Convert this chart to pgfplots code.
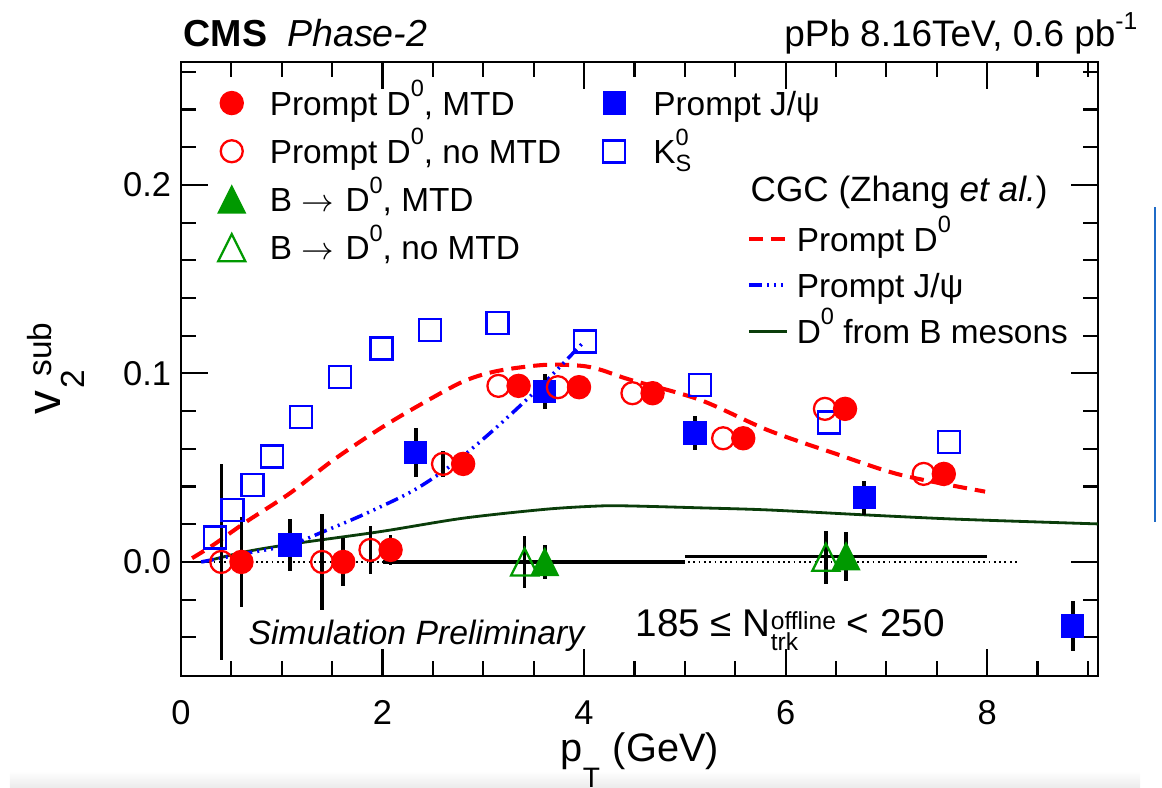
\documentclass[border=0pt]{standalone}
\usepackage{pgfplots}
\pgfplotsset{compat=1.18}
\usepackage{pgfplotstable}
\usepackage{fontspec}
\setmainfont{Liberation Sans}

\definecolor{pdred}{rgb}{1,0,0}
\definecolor{pdblue}{rgb}{0,0,1}
\definecolor{bgreen}{rgb}{0,0.6,0}
\definecolor{cgcgreen}{rgb}{0.04,0.24,0.04}
\definecolor{edgeblue}{rgb}{0.12,0.42,0.78}

\newcommand{\fsz}[1]{\fontsize{#1}{#1}\selectfont}
\newcommand{\sups}[1]{\raisebox{1.85mm}{\fsz{6.7}#1}}
\newcommand{\subs}[1]{\raisebox{-0.8mm}{\fsz{6.7}#1}}
\newcommand{\arr}{\hspace{0.9mm}\ensuremath{\rightarrow}\hspace{1.2mm}}

% ROOT-style up triangles: as wide as tall, centred on the point
\pgfdeclareplotmark{rtri}{%
  \pgfpathmoveto{\pgfqpoint{-\pgfplotmarksize}{-\pgfplotmarksize}}%
  \pgfpathlineto{\pgfqpoint{\pgfplotmarksize}{-\pgfplotmarksize}}%
  \pgfpathlineto{\pgfqpoint{0pt}{\pgfplotmarksize}}%
  \pgfpathclose\pgfusepathqstroke}
\pgfdeclareplotmark{rtri*}{%
  \pgfpathmoveto{\pgfqpoint{-\pgfplotmarksize}{-\pgfplotmarksize}}%
  \pgfpathlineto{\pgfqpoint{\pgfplotmarksize}{-\pgfplotmarksize}}%
  \pgfpathlineto{\pgfqpoint{0pt}{\pgfplotmarksize}}%
  \pgfpathclose\pgfusepathqfillstroke}

% ---------------- data ----------------
% prompt D0 with MTD
\pgfplotstableread{
x     y       ey
0.60  0.0000  0.024
1.61  0.0000  0.0125
2.08  0.0064  0.008
2.80  0.0520  0.003
3.35  0.0934  0.003
3.95  0.0927  0.003
4.68  0.0895  0.003
5.58  0.0656  0.003
6.59  0.0812  0.003
7.57  0.0467  0.003
}\dzmtd
% prompt D0 without MTD (bars smaller than the marker are not drawn)
\pgfplotstableread{
x     y       ey
0.40  0.0000  0.052
1.40  0.0000  0.0255
1.88  0.0064  0.0127
2.60  0.0520  0.007
3.15  0.0934  0
3.74  0.0927  0
4.48  0.0895  0
5.38  0.0656  0
6.39  0.0812  0
7.37  0.0467  0
}\dznomtd
% B -> D0 with MTD
\pgfplotstableread{
x     y       ey
3.61  0.0000  0.009
6.60  0.0030  0.013
}\bdmtd
% B -> D0 without MTD
\pgfplotstableread{
x     y       ey
3.41  0.0000  0.014
6.40  0.0025  0.014
}\bdnomtd
% prompt J/psi
\pgfplotstableread{
x     y        ey
1.08  0.0090   0.014
2.33  0.0580   0.013
3.61  0.0904   0.0095
5.10  0.0683   0.009
6.78  0.0341   0.009
8.85  -0.0340  0.0133
}\jpsi
% K0S
\pgfplotstableread{
x     y
0.34  0.0129
0.51  0.0276
0.71  0.0408
0.90  0.0559
1.19  0.0768
1.58  0.0980
1.99  0.1132
2.47  0.1231
3.14  0.1266
4.01  0.1169
5.15  0.0939
6.43  0.0739
7.62  0.0635
}\kzs
% CGC, prompt D0
\pgfplotstableread{
x     y
0.11  0.0020
0.32  0.0090
0.65  0.0214
1.08  0.0364
1.51  0.0540
1.98  0.0709
2.37  0.0833
2.80  0.0957
3.14  0.1013
3.60  0.1045
3.96  0.1041
4.16  0.1020
4.46  0.0966
5.15  0.0860
5.82  0.0700
6.48  0.0577
7.14  0.0462
7.98  0.0373
}\cgcdz
% CGC, prompt J/psi
\pgfplotstableread{
x     y
0.20  0.0000
0.65  0.0046
1.08  0.0090
1.41  0.0160
1.84  0.0258
2.31  0.0380
2.71  0.0524
3.14  0.0718
3.60  0.0948
4.00  0.1169
}\cgcjpsi
% CGC, D0 from B mesons
\pgfplotstableread{
x     y
0.22  0.0000
0.65  0.0055
1.15  0.0099
1.98  0.0161
2.80  0.0232
3.63  0.0280
4.16  0.0297
4.46  0.0297
5.15  0.0287
5.82  0.0276
6.81  0.0249
7.74  0.0226
9.20  0.0200
}\cgcbd

\pgfplotsset{
  frame geom/.style={at={(18.1mm,11.2mm)}, anchor=south west, scale only axis,
    width=91.7mm, height=61.4mm, xmin=0, xmax=9.1, ymin=-0.0605, ymax=0.2652},
  ebar/.style={error bars/.cd, y dir=both, y explicit, error mark=none,
    error bar style={black, line width=1pt}},
  overlay axis/.style={frame geom, hide axis, legend cell align=left,
    legend style={draw=none, fill=none, inner sep=0pt, outer sep=0pt,
      nodes={inner sep=0pt, outer sep=0pt, font=\fsz{9.5}, text height=6.9pt, text depth=0pt}}},
  markleg/.style={legend image code/.code={%
      \path[draw=none, fill=none] (-1.7mm,-1.7mm) rectangle (1.7mm,1.7mm);
      \draw[##1] plot coordinates {(0mm,0mm)};}},
  lineleg/.style={legend image code/.code={%
      \path[draw=none, fill=none] (0mm,-1.7mm) rectangle (3.8mm,1.7mm);
      \draw[##1] (0mm,0mm) -- (3.8mm,0mm);}},
  dzstyle/.style={pdred, line width=1.15pt, dash pattern=on 1.4mm off 0.8mm},
  jpstyle/.style={pdblue, line width=1.0pt,
    dash pattern=on 1.3mm off 0.5mm on 0.2mm off 0.5mm on 0.2mm off 0.5mm on 0.2mm off 0.5mm},
  bdstyle/.style={cgcgreen, line width=0.8pt},
}

\begin{document}
\begin{tikzpicture}
\useasboundingbox (0,0) rectangle (116.2mm,78.8mm);
\shade[top color=white, bottom color=black!8] (1mm,0) rectangle (114mm,1.7mm);

% ---------------- main frame and data ----------------
\begin{axis}[frame geom,
  xtick={0,2,4,6,8},
  minor xtick={0.5,1,1.5,2.5,3,3.5,4.5,5,5.5,6.5,7,7.5,8.5,9},
  ytick={0,0.1,0.2},
  minor ytick={-0.04,-0.02,0.02,0.04,0.06,0.08,0.12,0.14,0.16,0.18,0.22,0.24,0.26},
  tick align=inside,
  major tick length=2.7mm, minor tick length=1.5mm,
  every tick/.style={black, line width=0.6pt},
  axis line style={line width=0.7pt},
  tick label style={font=\fsz{9.8}},
  /pgf/number format/assume math mode=true,
  scaled y ticks=false,
  yticklabel style={/pgf/number format/.cd, fixed, fixed zerofill, precision=1, /tikz/.cd, xshift=0.25mm},
  xticklabel style={yshift=-1.25mm},
]
% zero reference
\addplot[black, densely dotted, line width=0.5pt] coordinates {(0.22,0) (8.3,0)};
% CGC calculations
\addplot[bdstyle, smooth] table[x=x,y=y] {\cgcbd};
\addplot[dzstyle, smooth] table[x=x,y=y] {\cgcdz};
\addplot[jpstyle, smooth] table[x=x,y=y] {\cgcjpsi};
% pT bins of the B -> D0 points
\addplot[black, line width=1pt] coordinates {(2,0) (5,0)};
\addplot[black, line width=1pt] coordinates {(5,0.003) (8,0.003)};
% measurements
\addplot[only marks, mark=square*, pdblue, mark size=1.1mm, ebar]
  table[x=x,y=y,y error=ey] {\jpsi};
\addplot[only marks, mark=o, pdred, mark size=1.1mm, mark options={line width=0.65pt}, ebar]
  table[x=x,y=y,y error=ey] {\dznomtd};
\addplot[only marks, mark=square, pdblue, mark size=1.1mm, mark options={line width=0.65pt}]
  table[x=x,y=y] {\kzs};
\addplot[only marks, mark=*, pdred, mark size=1.15mm, ebar]
  table[x=x,y=y,y error=ey] {\dzmtd};
\addplot[only marks, mark=rtri, bgreen, mark size=1.35mm, mark options={line width=0.65pt}, ebar]
  table[x=x,y=y,y error=ey] {\bdnomtd};
\addplot[only marks, mark=rtri*, bgreen, mark size=1.35mm, ebar]
  table[x=x,y=y,y error=ey] {\bdmtd};
\end{axis}

% ---------------- legends ----------------
\begin{axis}[overlay axis, markleg,
  legend style={at={(0.0368,0.9608)}, anchor=north west, row sep=1.42mm,
    /tikz/every odd column/.append style={column sep=2.1mm}}]
\addlegendimage{only marks, mark=*, pdred, mark size=1.15mm}
\addlegendentry{Prompt D\sups{0}, MTD}
\addlegendimage{only marks, mark=o, pdred, mark size=1.1mm, line width=0.65pt}
\addlegendentry{Prompt D\sups{0}, no MTD}
\addlegendimage{only marks, mark=rtri*, bgreen, mark size=1.35mm}
\addlegendentry{B\arr D\sups{0}, MTD}
\addlegendimage{only marks, mark=rtri, bgreen, mark size=1.35mm, line width=0.65pt}
\addlegendentry{B\arr D\sups{0}, no MTD}
\end{axis}

\begin{axis}[overlay axis, markleg,
  legend style={at={(0.454,0.9608)}, anchor=north west, row sep=1.44mm,
    /tikz/every odd column/.append style={column sep=2.2mm}}]
\addlegendimage{only marks, mark=square*, pdblue, mark size=1.1mm}
\addlegendentry{Prompt J/ψ}
\addlegendimage{only marks, mark=square, pdblue, mark size=1.1mm, line width=0.65pt}
\addlegendentry{K\rlap{\subs{S}}\sups{0}}
\end{axis}

\begin{axis}[overlay axis, lineleg,
  legend style={at={(0.617,0.739)}, anchor=north west, row sep=1.2mm,
    /tikz/every odd column/.append style={column sep=0.8mm}}]
\addlegendimage{dzstyle}
\addlegendentry{Prompt D\sups{0}}
\addlegendimage{jpstyle}
\addlegendentry{Prompt J/ψ}
\addlegendimage{bdstyle}
\addlegendentry{D\sups{0} from B mesons}
\end{axis}

% ---------------- texts ----------------
\node[anchor=base west, font=\fsz{10}, inner sep=0pt] at (75.0mm,58.6mm)
  {CGC (Zhang \textit{et al.})};
\node[anchor=base west, font=\fsz{10.7}, inner sep=0pt] at (18.3mm,74.1mm)
  {\textbf{CMS}\hspace{2mm}\textit{Phase-2}};
\node[anchor=base east, font=\fsz{10.5}, inner sep=0pt] at (113.8mm,74.1mm)
  {pPb 8.16TeV, 0.6 pb\raisebox{1.7mm}{\fsz{7}-1}};
\node[anchor=base west, font=\fsz{9.6}\itshape, inner sep=0pt] at (24.8mm,14.3mm)
  {Simulation Preliminary};
\node[anchor=base west, font=\fsz{11}, inner sep=0pt] at (63.5mm,15.1mm)
  {185 ≤ N\rlap{\raisebox{-1.4mm}{\fsz{7}trk}}\raisebox{0.7mm}{\fsz{7}offline} < 250};
% axis titles
\node[anchor=base west, rotate=90, inner sep=0pt] at (6.1mm,37.3mm)
  {\fsz{13.5}v\kern0.2mm\rlap{\raisebox{-2.4mm}{\fsz{9.5}2}}\kern1.2mm\raisebox{0.9mm}{\fsz{9.5}sub}};
\node[anchor=base west, inner sep=0pt] at (56.0mm,2.6mm)
  {\fsz{11.3}p\raisebox{-2.6mm}{\fsz{8}T}\hspace{1.3mm}(GeV)};

% side bar at the right edge
\draw[edgeblue, line width=0.25mm] (115.5mm,26.6mm) -- (115.5mm,58.1mm);
\end{tikzpicture}
\end{document}
